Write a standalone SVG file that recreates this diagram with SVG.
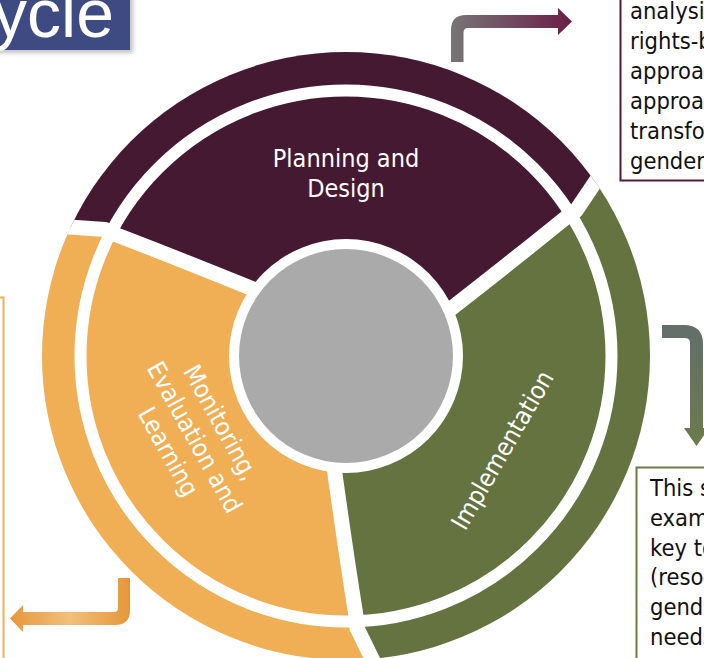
<svg xmlns="http://www.w3.org/2000/svg" width="704" height="658" viewBox="0 0 704 658">
<defs>
<style>
.lbl{font-family:'DejaVu Sans Condensed','DejaVu Sans',sans-serif;font-stretch:condensed;fill:#fff;font-size:25px;text-anchor:middle}
.btxt{font-family:'DejaVu Sans Condensed','DejaVu Sans',sans-serif;font-stretch:condensed;font-size:23.5px;fill:#111}
.div{fill:none;stroke:#fff;stroke-width:15;stroke-linejoin:round}
</style>
<clipPath id="disc"><circle cx="0" cy="0" r="304"/></clipPath>
<path id="wedge" d="M0,0 L95,22 Q190,17 259.7,11.8 L271.7,11.9 L312,-3.8 A312,312 0 0 1 -152.7,272.1 L-146.2,229.3 L-140.1,219 Q-109.7,156 -66.6,71.3 Z"/>
<path id="divider" d="M95,22 Q190,17 259.7,11.8 L271.7,11.9 L312,-3.8"/>
<linearGradient id="gTop" gradientUnits="userSpaceOnUse" x1="451" y1="0" x2="572" y2="0"><stop offset="0" stop-color="#767676"/><stop offset="1" stop-color="#6C1D47"/></linearGradient>
<linearGradient id="gRight" gradientUnits="userSpaceOnUse" x1="0" y1="325" x2="0" y2="446"><stop offset="0" stop-color="#646E6C"/><stop offset="1" stop-color="#6A7B4A"/></linearGradient>
<linearGradient id="gLeft" gradientUnits="userSpaceOnUse" x1="10" y1="0" x2="130" y2="0"><stop offset="0" stop-color="#E8963A"/><stop offset="0.5" stop-color="#F1C07C"/><stop offset="1" stop-color="#E69638"/></linearGradient>
<filter id="sh" x="-20%" y="-20%" width="140%" height="160%"><feGaussianBlur stdDeviation="2"/></filter>
</defs>
<rect width="704" height="658" fill="#fff"/>

<g id="title">
<rect x="-10" y="-10" width="143" height="63" fill="#999" opacity="0.6" filter="url(#sh)"/>
<rect x="-10" y="-10" width="140" height="60" fill="#3E4A82"/>
<text x="114" y="37" font-family="'Liberation Sans',Arial,sans-serif" font-size="68" fill="#fff" text-anchor="end">ycle</text>
</g>

<g id="cycle" transform="translate(346,356)">
<g clip-path="url(#disc)">
<g id="planning-design"><use href="#wedge" transform="rotate(205.2)" fill="#461933"/></g>
<g id="implementation"><use href="#wedge" transform="rotate(325.2)" fill="#657340"/></g>
<g id="monitoring-evaluation-learning"><use href="#wedge" transform="rotate(85.2)" fill="#F0AE55"/></g>
<circle r="265.5" fill="none" stroke="#fff" stroke-width="12"/>
<use href="#divider" class="div" transform="rotate(205.2)"/>
<use href="#divider" class="div" transform="rotate(325.2)"/>
<use href="#divider" class="div" transform="rotate(85.2)"/>
</g>
<g id="center"><circle r="117" fill="#fff"/><circle r="107" fill="#AAAAAA"/></g>
</g>

<g id="labels">
<text class="lbl" x="346" y="167">Planning and</text>
<text class="lbl" x="346" y="197">Design</text>
<text class="lbl" transform="translate(502,450) rotate(-60)" x="0" y="9">Implementation</text>
<g transform="translate(195,437) rotate(61)">
<text class="lbl" x="0" y="-21">Monitoring,</text>
<text class="lbl" x="0" y="9">Evaluation and</text>
<text class="lbl" x="0" y="39">Learning</text>
</g>
</g>

<g id="connectors">
<path d="M451,62 L451,30 Q451,15 466,15 L558,15 L558,8 L572,21.5 L558,35 L558,28 L468,28 Q463.5,28 463.5,32.5 L463.5,62 Z" fill="url(#gTop)"/>
<path d="M662,325 L684,325 Q703,325 703,344 L703,428 L709,428 L696.5,446 L684,428 L690,428 L690,343 Q690,338 685,338 L662,338 Z" fill="url(#gRight)"/>
<path d="M118,578 L130,578 L130,610 Q130,625 115,625 L23,625 L23,632 L10,618.5 L23,605 L23,612 L114,612 Q118,612 118,608 Z" fill="url(#gLeft)"/>
</g>

<g id="box-planning">
<rect x="620.5" y="-5" width="100" height="185.5" fill="#fff" stroke="#4E1D3C" stroke-width="2"/>
<text class="btxt" x="630" y="19">analysi</text>
<text class="btxt" x="630" y="49">rights-b</text>
<text class="btxt" x="630" y="79">approa</text>
<text class="btxt" x="630" y="109">approa</text>
<text class="btxt" x="630" y="139">transfo</text>
<text class="btxt" x="630" y="169">gender</text>
</g>

<g id="box-implementation">
<rect x="636.5" y="467.5" width="100" height="220" fill="#fff" stroke="#6B7B4A" stroke-width="2"/>
<text class="btxt" x="650" y="496">This s</text>
<text class="btxt" x="650" y="526">exam</text>
<text class="btxt" x="650" y="556">key to</text>
<text class="btxt" x="650" y="585">(resou</text>
<text class="btxt" x="650" y="615">gende</text>
<text class="btxt" x="650" y="645">needs</text>
</g>

<g id="box-mel">
<rect x="-100" y="297.5" width="103.5" height="420" fill="none" stroke="#F0B055" stroke-width="2"/>
</g>
</svg>
